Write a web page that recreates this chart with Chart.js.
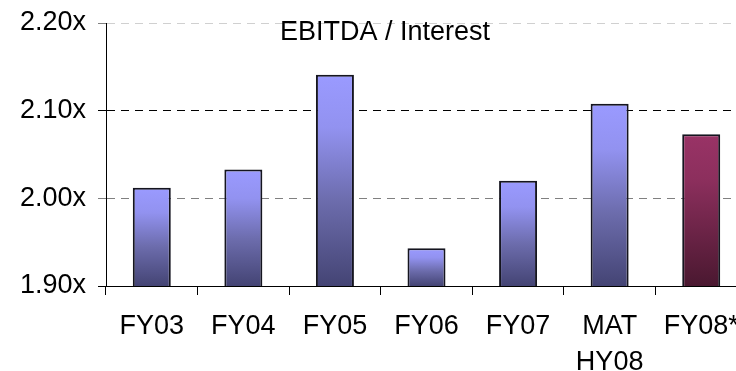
<!DOCTYPE html>
<html>
<head>
<meta charset="utf-8">
<script src="https://cdn.jsdelivr.net/npm/chart.js@4/dist/chart.umd.min.js"></script>
<style>
  html, body { margin: 0; padding: 0; background: #fff; overflow: hidden; width: 736px; height: 371px; }
  #wrap { position: absolute; left: 0; top: 0; width: 747px; height: 384px; }
</style>
</head>
<body>
<div id="wrap"><canvas id="c" width="747" height="384"></canvas></div>
<script>
// EBITDA / interest cover by period
const categories = ['FY03', 'FY04', 'FY05', 'FY06', 'FY07', ['MAT', 'HY08'], 'FY08*'];
const coverage = [2.012, 2.033, 2.141, 1.943, 2.020, 2.108, 2.073];
const yTickValues = [1.90, 2.00, 2.10, 2.20];
const chartTitle = 'EBITDA / Interest';
const forecastIndex = 6;

const FONT = '"Liberation Sans", Arial, sans-serif';

function barFill(ctx) {
  const chart = ctx.chart;
  const fallback = ctx.dataIndex === forecastIndex ? '#993366' : '#9999ff';
  const y = chart.scales && chart.scales.y;
  if (ctx.type !== 'data' || !y || !chart.chartArea) return fallback;
  const top = y.getPixelForValue(coverage[ctx.dataIndex]);
  const bottom = y.getPixelForValue(y.min);
  if (!isFinite(top) || !isFinite(bottom) || bottom <= top) return fallback;
  const g = chart.ctx.createLinearGradient(0, top, 0, bottom);
  if (ctx.dataIndex === forecastIndex) {
    g.addColorStop(0, '#993366');
    g.addColorStop(0.3, '#8c2f5d');
    g.addColorStop(1, '#4a1830');
  } else {
    g.addColorStop(0, '#9a9aff');
    g.addColorStop(0.25, '#9292f0');
    g.addColorStop(0.6, '#6c6cac');
    g.addColorStop(1, '#444474');
  }
  return g;
}

// grid line colour per y tick (bottom to top)
const gridColours = ['rgba(0,0,0,0)', '#808080', '#000000', '#d0d0d0'];
const tickColours = ['#000000', '#808080', '#000000', '#808080'];

const titlePlugin = {
  id: 'inlineTitle',
  afterDraw(chart) {
    const c = chart.ctx;
    c.save();
    c.font = '27px ' + FONT;
    c.fillStyle = '#000';
    c.textAlign = 'center';
    c.textBaseline = 'middle';
    c.fillText(chartTitle, 385, 33);
    c.restore();
  }
};

const chart = new Chart(document.getElementById('c'), {
  type: 'bar',
  data: {
    labels: categories,
    datasets: [{
      data: coverage,
      backgroundColor: barFill,
      borderColor: '#15151f',
      borderWidth: 2,
      borderSkipped: false,
      categoryPercentage: 1,
      barPercentage: 0.415
    }]
  },
  options: {
    responsive: false,
    animation: false,
    devicePixelRatio: 1,
    layout: { padding: { top: 23, left: 0, right: 0, bottom: 0 } },
    plugins: {
      legend: { display: false },
      tooltip: { enabled: false },
      title: { display: false }
    },
    scales: {
      x: {
        type: 'category',
        offset: true,
        grid: {
          offset: true,
          drawOnChartArea: false,
          drawTicks: true,
          tickLength: 9,
          color: '#000',
          tickColor: '#000'
        },
        border: { color: '#000', width: 1 },
        ticks: {
          color: '#000',
          font: { family: FONT, size: 27, lineHeight: 1.35 },
          padding: 13,
          maxRotation: 0,
          minRotation: 0,
          autoSkip: false
        },
        afterFit(scale) {
          scale.height = 98;
          scale.paddingLeft = 0;
          scale.paddingRight = 0;
        }
      },
      y: {
        min: yTickValues[0],
        max: yTickValues[yTickValues.length - 1],
        afterBuildTicks(scale) { scale.ticks = yTickValues.map(v => ({ value: v })); },
        ticks: {
          color: '#000',
          font: { family: FONT, size: 27, lineHeight: 1.2 },
          padding: 12,
          callback: v => Number(v).toFixed(2) + 'x'
        },
        grid: {
          color: ctx => gridColours[ctx.index] || '#808080',
          tickColor: ctx => tickColours[ctx.index] || '#000',
          tickLength: 8,
          lineWidth: 1
        },
        border: { color: '#000', width: 1, dash: [8, 6] },
        afterFit(scale) {
          scale.width = 106;
          scale.paddingTop = 0;
          scale.paddingBottom = 0;
        }
      }
    }
  },
  plugins: [titlePlugin]
});
// redraw once the scales are laid out so each bar gets its own gradient
chart.update('none');
</script>
</body>
</html>
